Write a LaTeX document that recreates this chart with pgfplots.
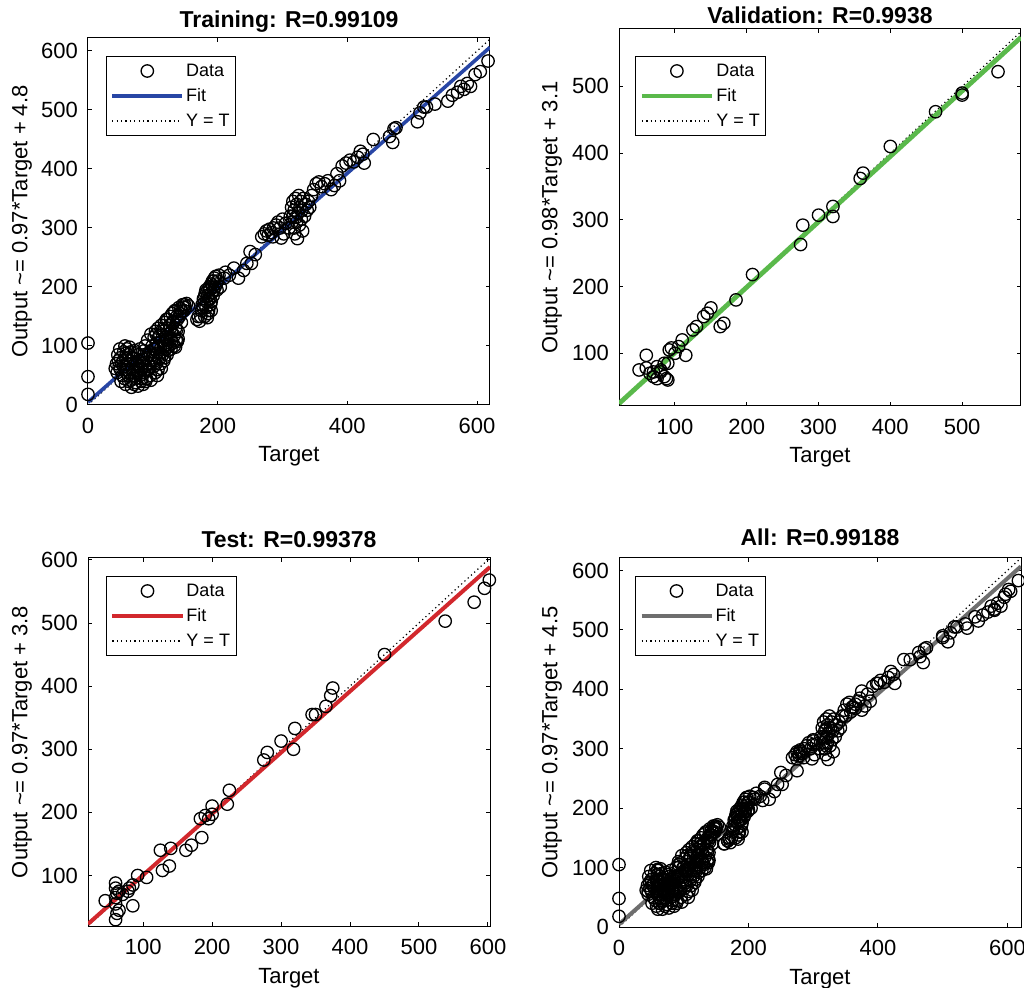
\documentclass[border=0pt]{standalone}
\usepackage{pgfplots}
\pgfplotsset{compat=1.18}
\usepackage{pgfplotstable}
\usepackage{fontspec}
\setmainfont{Liberation Sans}

\definecolor{fitblue}{RGB}{40,70,165}
\definecolor{fitgreen}{RGB}{90,185,75}
\definecolor{fitred}{RGB}{210,40,45}
\definecolor{fitgray}{RGB}{110,110,110}

\pgfplotstableread{
x y
0 105
0 48
0 18
42 62
44 70
45 55
47 75
48 65
50 60
50 80
52 70
53 50
55 65
55 90
56 45
57 100
58 78
58 35
60 60
60 95
61 70
62 85
63 40
64 55
65 75
66 90
67 30
68 65
69 50
70 80
71 35
72 60
73 70
74 45
75 88
76 55
77 32
78 65
79 75
80 50
80 95
82 40
83 60
84 70
85 35
86 85
87 55
88 100
89 65
90 45
91 80
92 110
93 60
94 70
95 90
96 50
97 120
98 75
99 100
46 85
49 95
51 40
54 75
57 60
59 88
62 50
64 98
66 42
68 80
70 55
72 92
74 38
76 70
78 85
81 62
83 45
85 78
87 92
89 40
91 58
93 85
95 65
97 42
99 80
100 85
101 65
102 115
103 95
104 125
105 70
106 105
107 88
108 130
109 100
110 78
111 118
112 95
113 135
114 108
115 85
116 125
117 100
118 140
119 115
120 95
121 130
122 110
123 145
124 120
125 100
126 135
127 150
128 112
129 125
130 155
131 105
132 140
133 118
134 160
135 130
136 110
137 150
138 145
139 125
140 165
142 155
144 140
146 170
148 160
150 165
152 172
155 168
133 100
138 108
128 95
122 85
118 80
112 70
108 60
104 55
101 95
103 75
105 120
107 50
109 115
111 88
113 62
115 128
117 75
119 100
121 145
123 92
125 115
127 130
129 108
131 142
133 158
135 98
137 128
139 112
141 150
143 163
145 158
147 166
149 170
168 145
170 150
172 142
175 160
176 170
178 180
180 150
181 190
182 165
183 175
184 185
185 195
186 160
187 200
188 180
189 170
190 205
191 190
192 210
193 185
194 195
195 215
196 200
198 205
200 210
202 220
204 200
180 185
185 155
190 175
174 150
177 165
179 172
182 195
184 148
186 180
188 195
190 160
192 200
194 210
197 218
199 195
210 215
212 225
218 220
225 232
232 215
240 228
245 240
250 260
252 240
258 255
268 285
272 290
275 295
278 288
280 298
283 292
286 300
290 305
293 310
296 300
300 315
302 290
305 308
298 283
285 285
310 300
312 320
314 335
315 310
316 345
318 330
319 290
320 350
321 318
322 340
323 282
324 325
325 355
326 305
327 335
328 345
329 315
330 330
331 295
332 350
334 320
336 340
338 330
340 345
342 335
345 355
318 300
322 310
316 320
348 365
352 375
356 378
360 370
365 375
370 380
375 365
380 372
384 392
388 380
392 405
398 410
404 415
410 412
416 420
420 430
424 425
426 410
440 450
465 455
470 445
472 468
475 470
508 480
512 495
518 505
522 505
535 510
555 515
562 525
570 530
575 540
580 535
585 545
590 540
597 560
605 565
617 583
}\trainT

\pgfplotstableread{
x y
50 75
60 97
60 78
65 70
70 72
70 65
75 80
75 62
80 72
80 75
85 65
85 85
88 62
90 85
90 60
92 105
95 108
100 100
105 110
110 120
115 97
125 135
130 140
140 155
145 160
150 168
163 140
168 145
185 180
208 218
275 263
278 292
300 307
320 305
320 320
358 362
362 370
400 410
463 462
500 490
500 487
550 522
}\valT

\pgfplotstableread{
x y
45 60
60 88
60 80
62 72
65 75
60 65
62 40
60 30
65 45
60 55
70 70
80 80
85 85
78 75
85 52
92 100
105 97
125 140
128 108
138 115
140 143
162 140
170 148
183 190
185 160
190 195
195 190
200 210
200 197
222 213
225 235
275 283
280 295
300 313
318 300
320 333
345 355
350 355
365 368
372 385
375 397
450 450
538 503
580 533
595 555
602 568
}\testT

\pgfplotsset{
  regstyle/.style={
    scale only axis, width=201pt,
    axis line style={line width=0.5pt},
    tick align=inside, major tick length=2pt,
    tick style={black, line width=0.5pt},
    tick label style={font=\fontsize{11}{12}\selectfont},
    /pgf/number format/assume math mode=true,
    xticklabel style={yshift=-3pt},
    yticklabel style={xshift=-1.5pt},
    label style={font=\fontsize{11}{12}\selectfont},
    title style={font=\bfseries\fontsize{11.5}{13}\selectfont, at={(axis description cs:0.5,1)}, anchor=base, yshift=-1pt},
    xlabel style={at={(axis description cs:0.5,0)}, anchor=base, yshift=-28.5pt},
    xlabel={Target},
    legend cell align=left,
    legend style={font=\fontsize{9}{10}\selectfont, at={(axis description cs:0,1)}, anchor=north west, xshift=9pt, yshift=-9pt, draw=black, line width=0.5pt, inner xsep=2pt, inner ysep=1pt, nodes={inner sep=1pt, text height=8pt, text depth=2.5pt}},
  },
  datastyle/.style={only marks, mark=o, mark size=3.1pt, black, mark options={line width=0.65pt}},
  ytstyle/.style={black, line width=0.6pt, dash pattern=on 0.6pt off 1.6pt},
}

\newcommand{\legendimgs}[2]{%
  \addlegendimage{legend image code/.code={\path[draw=none,fill=none] (0pt,0pt) -- (35pt,0pt); \draw[black,line width=0.65pt,fill=none] (17.5pt,0pt) circle[radius=3.1pt];}}
  \addlegendentry{Data}
  \addlegendimage{legend image code/.code={\draw[#1,line width=#2] (0pt,0pt) -- (35pt,0pt);}}
  \addlegendentry{Fit}
  \addlegendimage{legend image code/.code={\draw[black,line width=0.6pt,dash pattern=on 0.6pt off 1.6pt] (0pt,0pt) -- (35pt,0pt);}}
  \addlegendentry{Y = T}
}

\begin{document}
\begin{tikzpicture}
\useasboundingbox (0,0) rectangle (512pt,493.5pt);

% Training
\begin{axis}[regstyle, at={(44pt,291pt)}, anchor=south west, height=183.5pt,
  xmin=0, xmax=620, ymin=0, ymax=622,
  xtick={0,200,400,600}, ytick={0,100,...,600},
  title={Training: R=0.99109},
  ylabel={Output \textasciitilde= 0.97*Target + 4.8},
  ylabel style={at={(axis description cs:-0.164,0.5)}, anchor=center}]
  \legendimgs{fitblue}{1.8pt}
  \addplot[ytstyle, forget plot] coordinates {(0,0) (620,620)};
  \addplot[fitblue, line width=1.8pt, forget plot] coordinates {(0,4.8) (620,606.2)};
  \addplot[datastyle, forget plot] table {\trainT};
\end{axis}

% Validation
\begin{axis}[regstyle, at={(309.5pt,290.5pt)}, anchor=south west, height=188.5pt,
  xmin=22, xmax=582, ymin=21, ymax=586,
  xtick={100,200,...,500}, ytick={100,200,...,500},
  title={Validation: R=0.9938},
  title style={yshift=-2.5pt},
  ylabel={Output \textasciitilde= 0.98*Target + 3.1},
  ylabel style={at={(axis description cs:-0.167,0.5)}, anchor=center},
  legend style={xshift=-1pt, yshift=-4.5pt}]
  \legendimgs{fitgreen}{2.4pt}
  \addplot[ytstyle, forget plot] coordinates {(22,22) (582,582)};
  \addplot[fitgreen, line width=2.4pt, forget plot] coordinates {(22,24.66) (582,573.46)};
  \addplot[datastyle, forget plot] table {\valT};
\end{axis}

% Test
\begin{axis}[regstyle, at={(44pt,30.5pt)}, anchor=south west, height=184pt,
  xmin=20, xmax=603, ymin=20, ymax=603,
  xtick={100,200,...,600}, ytick={100,200,...,600},
  title={Test: R=0.99378},
  ylabel={Output \textasciitilde= 0.97*Target + 3.8},
  ylabel style={at={(axis description cs:-0.164,0.5)}, anchor=center}]
  \legendimgs{fitred}{2pt}
  \addplot[ytstyle, forget plot] coordinates {(20,20) (603,603)};
  \addplot[fitred, line width=2pt, forget plot] coordinates {(20,23.2) (603,588.7)};
  \addplot[datastyle, forget plot] table {\testT};
\end{axis}

% All
\begin{axis}[regstyle, at={(309.5pt,30pt)}, anchor=south west, height=184.5pt,
  xmin=0, xmax=621, ymin=0, ymax=621,
  xtick={0,200,400,600}, ytick={0,100,...,600},
  title={All: R=0.99188},
  title style={yshift=1pt},
  ylabel={Output \textasciitilde= 0.97*Target + 4.5},
  ylabel style={at={(axis description cs:-0.167,0.5)}, anchor=center},
  legend style={xshift=-1pt}]
  \legendimgs{fitgray}{2pt}
  \addplot[ytstyle, forget plot] coordinates {(0,0) (621,621)};
  \addplot[fitgray, line width=2pt, forget plot] coordinates {(0,4.5) (621,606.9)};
  \addplot[datastyle, forget plot] table {\trainT};
  \addplot[datastyle, forget plot] table {\valT};
  \addplot[datastyle, forget plot] table {\testT};
\end{axis}
\end{tikzpicture}
\end{document}
